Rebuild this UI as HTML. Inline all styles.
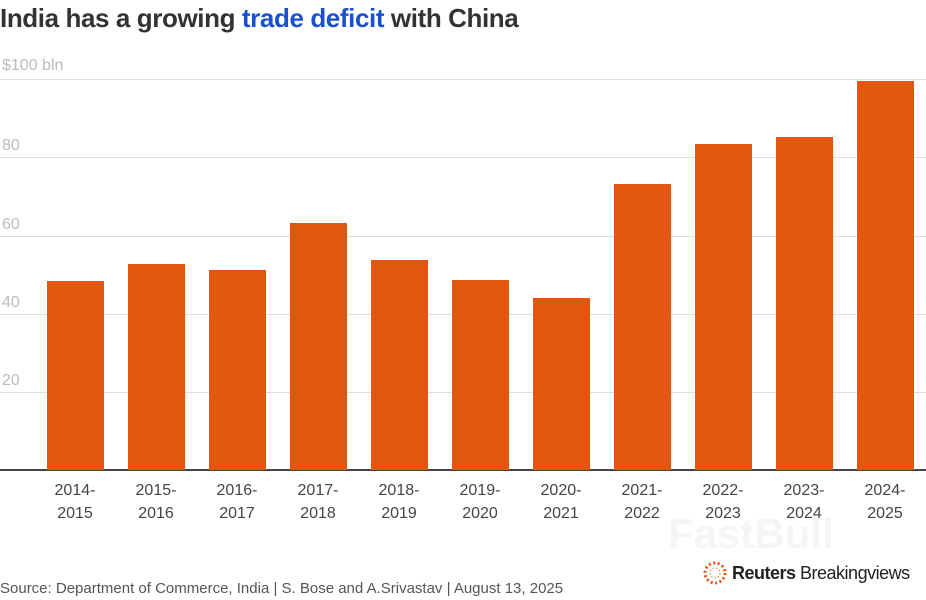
<!DOCTYPE html>
<html><head><meta charset="utf-8"><style>
body{margin:0;width:926px;height:600px;background:#fff;font-family:"Liberation Sans",sans-serif;overflow:hidden;position:relative}
.t{position:absolute;left:0;top:3px;font-size:26px;font-weight:bold;color:#333;letter-spacing:-0.4px}
.t span{color:#1a4fd0}
.g{position:absolute;left:0;width:926px;height:1px;background:#ddd}
.yl{position:absolute;left:2px;font-size:16px;color:#bbb}
.b{position:absolute;width:57px;background:#e35610}
.x{position:absolute;top:479px;width:70px;text-align:center;font-size:16px;color:#444;line-height:23px}
.s{position:absolute;left:0;top:580px;font-size:15px;color:#555}
.r{position:absolute;left:732px;top:563px;font-size:18px;color:#222;letter-spacing:-0.5px}
</style></head><body>
<div style="position:absolute;left:668px;top:510px;font-size:42px;font-weight:bold;color:#f5f5f5">FastBull</div>
<div class="t">India has a growing <span>trade deficit</span> with China</div>
<div class="yl" style="top:57px">$100 bln</div>
<div class="g" style="top:79px"></div>
<div class="g" style="top:157px"></div><div class="yl" style="top:137px">80</div>
<div class="g" style="top:236px"></div><div class="yl" style="top:216px">60</div>
<div class="g" style="top:314px"></div><div class="yl" style="top:294px">40</div>
<div class="g" style="top:392px"></div><div class="yl" style="top:372px">20</div>
<div class="g" style="top:469px;height:2px;background:#444"></div>
<div class="b" style="left:47px;top:281px;height:189px"></div>
<div class="b" style="left:128px;top:264px;height:206px"></div>
<div class="b" style="left:209px;top:270px;height:200px"></div>
<div class="b" style="left:290px;top:223px;height:247px"></div>
<div class="b" style="left:371px;top:260px;height:210px"></div>
<div class="b" style="left:452px;top:280px;height:190px"></div>
<div class="b" style="left:533px;top:298px;height:172px"></div>
<div class="b" style="left:614px;top:184px;height:286px"></div>
<div class="b" style="left:695px;top:144px;height:326px"></div>
<div class="b" style="left:776px;top:137px;height:333px"></div>
<div class="b" style="left:857px;top:81px;height:389px"></div>
<div class="x" style="left:40px">2014-<br>2015</div>
<div class="x" style="left:121px">2015-<br>2016</div>
<div class="x" style="left:202px">2016-<br>2017</div>
<div class="x" style="left:283px">2017-<br>2018</div>
<div class="x" style="left:364px">2018-<br>2019</div>
<div class="x" style="left:445px">2019-<br>2020</div>
<div class="x" style="left:526px">2020-<br>2021</div>
<div class="x" style="left:607px">2021-<br>2022</div>
<div class="x" style="left:688px">2022-<br>2023</div>
<div class="x" style="left:769px">2023-<br>2024</div>
<div class="x" style="left:850px">2024-<br>2025</div>
<div class="s">Source: Department of Commerce, India | S. Bose and A.Srivastav | August 13, 2025</div>
<svg style="position:absolute;left:702px;top:560px" width="26" height="26"><circle cx="13" cy="13" r="10" fill="none" stroke="#e35610" stroke-width="3" stroke-dasharray="2 2.5"/><circle cx="13" cy="13" r="5" fill="none" stroke="#e8a070" stroke-width="1.5" stroke-dasharray="1.5 2"/></svg>
<div class="r"><b>Reuters</b> Breakingviews</div>
</body></html>
